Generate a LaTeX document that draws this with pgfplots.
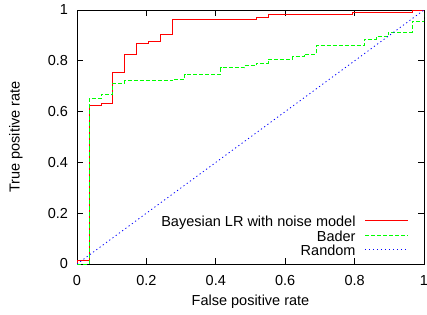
\documentclass[border=0pt]{standalone}
\usepackage{fontspec}
\setmainfont{Liberation Sans}
\usepackage{pgfplots}
\pgfplotsset{compat=1.18}
\begin{document}
\fontsize{14.5pt}{17pt}\selectfont
\begin{tikzpicture}
\useasboundingbox (-77pt,-50pt) rectangle (350pt,264pt);
\begin{axis}[
  at={(0pt,0pt)}, anchor=south west,
  scale only axis, width=347pt, height=254pt,
  xmin=0, xmax=1, ymin=0, ymax=1,
  xtick={0,0.2,0.4,0.6,0.8,1}, ytick={0,0.2,0.4,0.6,0.8,1},
  tick align=inside, major tick length=6pt,
  axis line style={black, line width=0.8pt},
  tick style={black, line width=0.8pt},
  /pgf/number format/assume math mode=true,
  ticklabel style={font=\fontsize{14.5pt}{17pt}\selectfont},
  xticklabel style={yshift=-6pt},
  yticklabel style={xshift=-4pt},
  xlabel={False positive rate}, ylabel={True positive rate},
  label style={font=\fontsize{14.5pt}{17pt}\selectfont},
  xlabel style={at={(rel axis cs:0.5,-0.15)}, anchor=center},
  ylabel style={at={(rel axis cs:-0.176,0.5)}, anchor=center, rotate=0},
  legend style={draw=none, fill=none, at={(0.965,0.012)}, anchor=south east,
    font=\fontsize{14.5pt}{17pt}\selectfont,
    nodes={inner sep=0pt, text height=10pt, text depth=3pt},
    row sep=1.5pt, column sep=9pt},
  legend cell align=right,
  legend plot pos=right,
  legend image code/.code={\draw[#1] (0pt,0pt) -- (43pt,0pt);},
]
\addlegendimage{legend image code/.code={\draw[red, line width=1.1pt] (0pt,2.5pt) -- (43pt,2.5pt);}}
\addlegendentry{Bayesian LR with noise model}
\addlegendimage{legend image code/.code={\draw[green, line width=1.1pt, dash pattern=on 4pt off 2pt] (0pt,2.5pt) -- (43pt,2.5pt);}}
\addlegendentry{Bader}
\addlegendimage{legend image code/.code={\draw[blue, line width=1.1pt, dash pattern=on 1.2pt off 2.8pt] (0pt,2.5pt) -- (43pt,2.5pt);}}
\addlegendentry{Random}
\addplot[red, line width=0.8pt, mark=none, forget plot] coordinates {
(0,0) (0,0.016) (0.0345,0.016) (0.0345,0.625) (0.069,0.625) (0.069,0.633) (0.1034,0.633) (0.1034,0.756) (0.138,0.756) (0.138,0.826) (0.1724,0.826) (0.1724,0.869) (0.2069,0.869) (0.2069,0.875) (0.2414,0.875) (0.2414,0.904) (0.2759,0.904) (0.2759,0.963) (0.5172,0.963) (0.5172,0.971) (0.5517,0.971) (0.5517,0.982) (0.7931,0.982) (0.7931,0.991) (0.9655,0.991) (0.9655,1) (1,1)
};
\addplot[green, line width=0.8pt, mark=none, dash pattern=on 4pt off 2pt, forget plot] coordinates {
(0,0) (0.0345,0) (0.0345,0.651) (0.069,0.651) (0.069,0.668) (0.1034,0.668) (0.1034,0.711) (0.138,0.711) (0.138,0.721) (0.2759,0.721) (0.2759,0.728) (0.3103,0.728) (0.3103,0.747) (0.4138,0.747) (0.4138,0.773) (0.4828,0.773) (0.4828,0.781) (0.5172,0.781) (0.5172,0.79) (0.5517,0.79) (0.5517,0.807) (0.6207,0.807) (0.6207,0.816) (0.6552,0.816) (0.6552,0.826) (0.6897,0.826) (0.6897,0.86) (0.8276,0.86) (0.8276,0.885) (0.8621,0.885) (0.8621,0.895) (0.8966,0.895) (0.8966,0.912) (0.9655,0.912) (0.9655,0.956) (1,0.956) (1,1)
};
\addplot[blue, line width=0.8pt, mark=none, dash pattern=on 1.2pt off 2.8pt, forget plot] coordinates {
(0,0) (1,1)
};
\end{axis}
\end{tikzpicture}
\end{document}
